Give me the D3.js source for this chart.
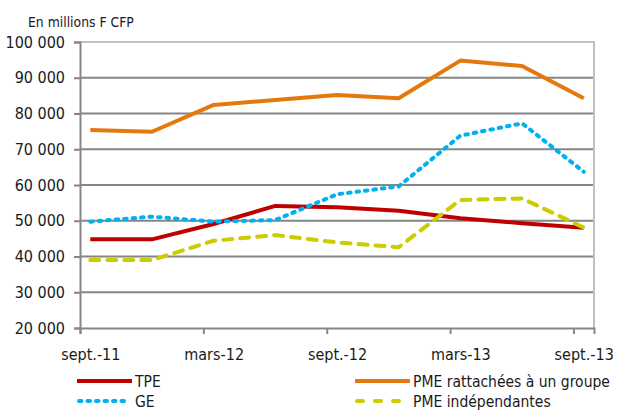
<!DOCTYPE html>
<html>
<head>
<meta charset="utf-8">
<script src="https://cdn.jsdelivr.net/npm/d3@7"></script>
<style>
  body { margin: 0; background: #fff; }
  svg text { font-family: "DejaVu Sans Condensed", "DejaVu Sans", sans-serif; fill: #1a1a1a; }
</style>
</head>
<body>
<div id="chart"></div>
<script>
"use strict";

// Quarterly observations, positioned by month index from sept. 2011.
const months = [0, 3, 6, 9, 12, 15, 18, 21, 24];
const tickMonths = [0, 6, 12, 18, 24];
const tickLabels = ["sept.-11", "mars-12", "sept.-12", "mars-13", "sept.-13"];
const yTicks = [20000, 30000, 40000, 50000, 60000, 70000, 80000, 90000, 100000];

const tpe = [44800, 44800, 49100, 54150, 53750, 52800, 50700, 49300, 48050];
const pmeGroupe = [75400, 74900, 82400, 83800, 85200, 84250, 94800, 93300, 84250];
const ge = [49750, 51150, 49750, 50200, 57400, 59600, 73800, 77250, 63700];
const pmeIndep = [39000, 39000, 44400, 46000, 43950, 42600, 55800, 56250, 48100];

const seriesNames = ["TPE", "PME rattachées  à un groupe", "GE", "PME indépendantes"];

const width = 618, height = 410;
const plotLeft = 80, plotRight = 594, plotTop = 42, plotBottom = 328;

const svg = d3.select("#chart").append("svg")
    .attr("width", width)
    .attr("height", height);

// Month axis: each month is one slot, points sit in the middle of their slot.
const x = d3.scaleLinear().domain([0, 25]).range([plotLeft, plotRight]);
const y = d3.scaleLinear().domain([20000, 100000]).range([plotBottom, plotTop]);

const fr = d3.formatLocale({decimal: ",", thousands: " ", grouping: [3], currency: ["", ""]});
const fmt = fr.format(",");

// Gridlines
svg.append("g")
    .selectAll("line")
    .data(yTicks.filter(d => d > 20000 && d < 100000))
    .join("line")
    .attr("x1", plotLeft).attr("x2", plotRight)
    .attr("y1", d => y(d)).attr("y2", d => y(d))
    .attr("stroke", "#868686")
    .attr("stroke-width", 2);

// Plot border (top and right)
svg.append("path")
    .attr("d", "M" + plotLeft + "," + y(100000) + "H" + plotRight + "V" + y(20000))
    .attr("fill", "none")
    .attr("stroke", "#c0c0c0")
    .attr("stroke-width", 2);

// Y axis
const yAxis = svg.append("g")
    .attr("transform", "translate(" + plotLeft + ",0)")
    .call(d3.axisLeft(y).tickValues(yTicks).tickFormat(fmt).tickSize(6).tickPadding(9));
yAxis.select(".domain").attr("stroke", "#868686").attr("stroke-width", 2);
yAxis.selectAll(".tick line").attr("stroke", "#868686").attr("stroke-width", 2);
yAxis.selectAll(".tick text")
    .style("font-size", "16px")
    .attr("fill", "#1a1a1a");

// X axis
const xAxis = svg.append("g")
    .attr("transform", "translate(0," + plotBottom + ")")
    .call(d3.axisBottom(x).tickValues(tickMonths)
        .tickFormat((d, i) => tickLabels[i]).tickSize(6).tickPadding(0));
xAxis.select(".domain").attr("stroke", "#868686").attr("stroke-width", 2);
xAxis.selectAll(".tick line").attr("stroke", "#868686").attr("stroke-width", 2);
xAxis.selectAll(".tick text")
    .style("font-size", "16px")
    .attr("fill", "#1a1a1a")
    .attr("x", x(0.5) - x(0))
    .attr("y", 21);

// Unit label
svg.append("text")
    .attr("x", 28)
    .attr("y", 27)
    .style("font-size", "13.8px")
    .text("En millions F CFP");

const line = d3.line()
    .x((d, i) => x(months[i] + 0.5))
    .y(d => y(d));

const styles = [
    {data: tpe, color: "#c00000", dash: null, cap: "butt"},
    {data: pmeGroupe, color: "#e4780c", dash: null, cap: "butt"},
    {data: ge, color: "#00b0f0", dash: "2.5,6", cap: "round"},
    {data: pmeIndep, color: "#cccc00", dash: "9,8", cap: "round"}
];

svg.append("g")
    .selectAll("path")
    .data(styles)
    .join("path")
    .attr("fill", "none")
    .attr("stroke", d => d.color)
    .attr("stroke-width", 4)
    .attr("stroke-linejoin", "round")
    .attr("stroke-linecap", d => d.cap)
    .attr("stroke-dasharray", d => d.dash)
    .attr("d", d => line(d.data));

// Legend, two columns
const legendPos = [
    {lx: 77, ly: 381},
    {lx: 355, ly: 381},
    {lx: 77, ly: 401},
    {lx: 355, ly: 401}
];
const legend = svg.append("g")
    .selectAll("g")
    .data(styles)
    .join("g")
    .attr("transform", (d, i) => "translate(" + legendPos[i].lx + "," + legendPos[i].ly + ")");
legend.append("line")
    .attr("x1", d => d.cap === "round" ? 2 : 0)
    .attr("x2", d => d.cap === "round" ? 53 : 55)
    .attr("stroke", d => d.color)
    .attr("stroke-width", 4)
    .attr("stroke-linecap", d => d.cap)
    .attr("stroke-dasharray", (d, i) => i === 3 ? "6,12" : d.dash);
legend.append("text")
    .attr("x", 58)
    .attr("dy", "0.36em")
    .style("font-size", "15.5px")
    .text((d, i) => seriesNames[i]);
</script>
</body>
</html>
